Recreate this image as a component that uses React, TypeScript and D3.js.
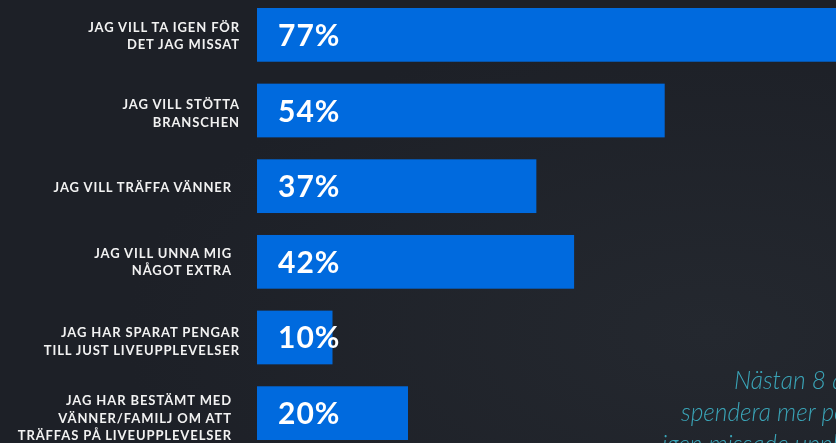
import React from "react";
import * as d3 from "d3";

const categories: string[][] = [
  ["JAG VILL TA IGEN FÖR", "DET JAG MISSAT"],
  ["JAG VILL STÖTTA", "BRANSCHEN"],
  ["JAG VILL TRÄFFA VÄNNER"],
  ["JAG VILL UNNA MIG", "NÅGOT EXTRA"],
  ["JAG HAR SPARAT PENGAR", "TILL JUST LIVEUPPLEVELSER"],
  ["JAG HAR BESTÄMT MED", "VÄNNER/FAMILJ OM ATT", "TRÄFFAS PÅ LIVEUPPLEVELSER"],
];
const values: number[] = [77, 54, 37, 42, 10, 20];
const noteLines: string[] = ["Nästan 8 av 10 vill", "spendera mer pengar för att ta", "igen missade upplevelser"];

const W = 836;
const H = 443;
const labelRight = [240, 240, 232, 232, 240, 232];
const labelShift = [1, 3, 1.5, 0, 4, 5];
const noteX = [734, 681, 662];

export default function App() {
  const x = d3.scaleLinear().domain([0, 100]).range([257, 257 + 755]);
  const y = d3
    .scaleBand<number>()
    .domain(d3.range(values.length))
    .range([8, 440])
    .paddingInner(0.29)
    .paddingOuter(0);
  const bw = y.bandwidth();
  return (
    <svg
      width={W}
      height={H}
      style={{ position: "fixed", left: 0, top: 0, display: "block" }}
      fontFamily="Lato, 'Open Sans', sans-serif"
    >
      <defs>
        <radialGradient id="bg" cx="0.85" cy="0.75" r="0.7">
          <stop offset="0" stopColor="#24282f" />
          <stop offset="1" stopColor="#1d2027" />
        </radialGradient>
      </defs>
      <rect width={W} height={H} fill="url(#bg)" />
      {values.map((v, i) => {
        const y0 = y(i)!;
        const cy = y0 + bw / 2;
        const lines = categories[i];
        const lh = 17.5;
        const capMid = cy + labelShift[i];
        return (
          <g key={i}>
            <rect x={x(0)} y={y0} width={x(v) - x(0)} height={bw} fill="#006ade" />
            {lines.map((ln, j) => (
              <text
                key={j}
                x={labelRight[i]}
                y={capMid + (j - (lines.length - 1) / 2) * lh + 4.6}
                textAnchor="end"
                fill="#f2f2f2"
                fontWeight={700}
                fontSize={13}
                letterSpacing={0.9}
              >
                {ln}
              </text>
            ))}
            <text
              x={x(0) + 21}
              y={cy + 11}
              fill="#ffffff"
              fontWeight={700}
              fontSize={30}
              letterSpacing={1}
            >
              {v}%
            </text>
          </g>
        );
      })}
      {noteLines.map((t, i) => (
        <text
          key={i}
          x={noteX[i]}
          y={389 + i * 32}
          fill="#3aa5b8"
          fontStyle="italic"
          fontWeight={300}
          fontSize={24.5}
        >
          {t}
        </text>
      ))}
    </svg>
  );
}
